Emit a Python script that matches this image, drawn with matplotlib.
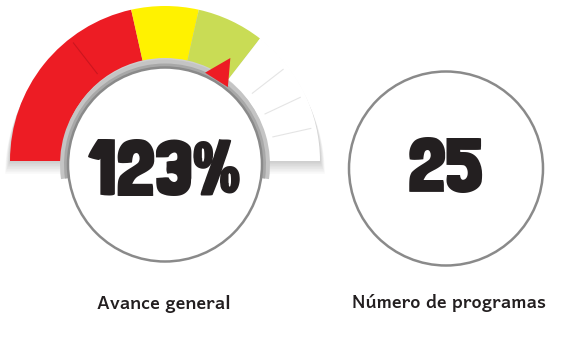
import matplotlib
matplotlib.use("Agg")
import matplotlib.pyplot as plt
from matplotlib.patches import Wedge, Circle, Polygon
from matplotlib import font_manager as fm
from matplotlib.textpath import TextPath
import numpy as np

# gauge data (percent of the half-circle sweep, left -> right)
seg_bounds = [0, 43, 57, 71, 100]
seg_colors = ['#ed1c24', '#fff200', '#c9dc55', '#ffffff']
tick_values = [29, 79, 86, 93]
pointer_value = 68

avance = 123
programas = 25
labels = ['Avance general', 'Número de programas']

W, H = 584, 355
fig = plt.figure(figsize=(W / 100, H / 100), dpi=100)
ax = fig.add_axes([0, 0, 1, 1])
ax.set_xlim(0, W)
ax.set_ylim(0, H)
ax.set_aspect('equal')
ax.axis('off')

txt_color = '#231f20'


# choose the face whose width / height ratio for a sample text is closest
# to what the reference shows; ties broken by weight then file name
def pick_font(sample, ratio, weight):
    best = None
    for f in sorted(fm.fontManager.ttflist, key=lambda e: e.fname):
        if f.style != 'normal' or 'CJK' in f.fname:
            continue
        w = f.weight if isinstance(f.weight, int) else fm.weight_dict.get(f.weight, 400)
        if w < 600:
            continue
        fp = fm.FontProperties(fname=f.fname)
        try:
            ext = TextPath((0, 0), sample, size=100, prop=fp).get_extents()
            cap = TextPath((0, 0), 'H', size=100, prop=fp).get_extents().height
        except Exception:
            continue
        if cap <= 0:
            continue
        score = abs(ext.width / cap - ratio) / ratio + abs(w - weight) / 1000
        if best is None or score < best[0]:
            best = (score, f.fname)
    if best:
        return fm.FontProperties(fname=best[1])
    return fm.FontProperties(family='DejaVu Sans', weight='bold')


big_font = pick_font('123%', 152 / 58, 900)
small_font = pick_font('Avance general', 142 / 14, 650)

gc = (165, H - 161)      # gauge centre
r_out, r_in = 155, 103
lc = (165, H - 164.5)    # left circle
rc = (446, H - 168.5)    # right circle
rad = 97


def to_angle(v):
    return 180 - v * 1.8


# soft shadow under the gauge
for k in range(1, 9):
    ax.add_patch(Wedge((gc[0], gc[1] - k * 1.6), r_out + k * 0.6, 0, 180,
                       width=r_out - r_in + k * 1.2, color='black', alpha=0.022, lw=0))

# gauge segments
for i in range(len(seg_colors)):
    a1 = to_angle(seg_bounds[i + 1])
    a2 = to_angle(seg_bounds[i])
    ax.add_patch(Wedge(gc, r_out, a1, a2, width=r_out - r_in, color=seg_colors[i], lw=0))

# faint ticks
for v in tick_values:
    a = np.radians(to_angle(v))
    col = '#b0101a' if v < seg_bounds[1] else '#cfcfcf'
    ax.plot([gc[0] + 110 * np.cos(a), gc[0] + 150 * np.cos(a)],
            [gc[1] + 110 * np.sin(a), gc[1] + 150 * np.sin(a)],
            color=col, lw=0.8, alpha=0.55, solid_capstyle='butt')

# gray band round the top of the left circle
ax.add_patch(Wedge(lc, rad + 8, -8, 188, width=8, color='#c4c4c4', lw=0))
ax.add_patch(Wedge(lc, rad + 4, -8, 188, width=4, color='#a8a8a8', lw=0))

# circles
ax.add_patch(Circle(lc, rad, facecolor='white', edgecolor='#8a8a8a', lw=1.8))
ax.add_patch(Circle(rc, rad, facecolor='white', edgecolor='#8a8a8a', lw=1.8))

# pointer
pa = to_angle(pointer_value)
pts = []
for r, a in [(122, pa), (97, pa + 8), (97, pa - 8)]:
    pts.append((gc[0] + r * np.cos(np.radians(a)), gc[1] + r * np.sin(np.radians(a))))
ax.add_patch(Polygon(pts, closed=True, color='#ed1c24', lw=0))

# texts: (string, x, baseline y, target width px, start size pt, font)
texts = [
    (f'{avance}%', lc[0], H - 195, 152, 56, big_font),
    (f'{programas}', rc[0], H - 192, 76, 56, big_font),
    (labels[0], 164, H - 309, 142, 14, small_font),
    (labels[1], 449, H - 308, 205, 14, small_font),
]
objs = []
for s, x, y, tw, fs, fp in texts:
    t = ax.text(x, y, s, ha='center', va='baseline', fontproperties=fp,
                fontsize=fs, color=txt_color)
    objs.append((t, tw, fs))

fig.canvas.draw()
renderer = fig.canvas.get_renderer()
for t, tw, fs in objs:
    w = t.get_window_extent(renderer).width
    t.set_fontsize(min(fs * 1.25, fs * tw / w))

fig.savefig('out.png', dpi=100, facecolor='white')
